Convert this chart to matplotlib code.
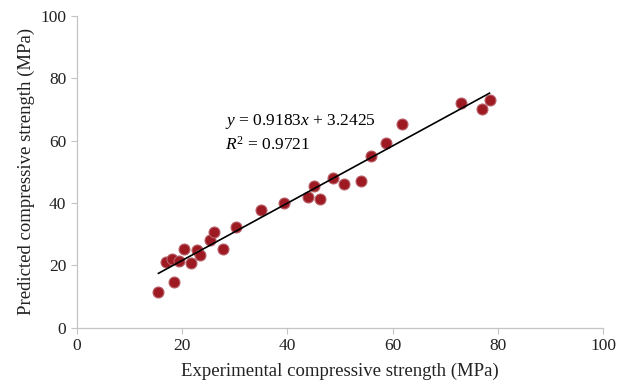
import numpy as np
import matplotlib.pyplot as plt

plt.rcParams['font.family'] = ['Liberation Serif', 'DejaVu Serif']
plt.rcParams['mathtext.fontset'] = 'custom'
plt.rcParams['mathtext.rm'] = 'Liberation Serif'
plt.rcParams['mathtext.it'] = 'Liberation Serif:italic'

# Experimental vs predicted compressive strength (MPa)
experimental = [15.5, 18.4, 17.0, 18.0, 19.5, 20.4, 21.6, 22.8, 23.4, 25.3,
                26.1, 27.8, 30.3, 34.9, 39.3, 43.9, 45.0, 46.1, 48.7, 50.7,
                53.9, 55.8, 58.7, 61.7, 72.9, 76.9, 78.4]
predicted = [11.4, 14.7, 21.0, 22.1, 21.3, 25.2, 20.9, 24.8, 23.4, 28.2,
             30.7, 25.4, 32.4, 37.8, 40.0, 41.8, 45.5, 41.4, 47.9, 46.2,
             47.0, 55.1, 59.4, 65.4, 72.1, 70.1, 73.0]
slope, intercept = 0.9183, 3.2425
r2 = 0.9721

fig = plt.figure(figsize=(6.35, 3.88), dpi=100)
ax = fig.add_axes([0.121, 0.155, 0.829, 0.804])

ax.scatter(experimental, predicted, s=62, color='#9e1a22',
           edgecolor='#b8606a', linewidth=0.8, zorder=3)

xs = np.array([min(experimental), max(experimental)])
ax.plot(xs, slope * xs + intercept, color='black', linewidth=1.2, zorder=4)

ax.text(28.2, 66.1, r'$y$ = 0.9183$x$ + 3.2425', fontsize=12.5, va='center')
ax.text(28.2, 58.6, r'$R^2$ = 0.9721', fontsize=12.5, va='center')

ax.set_xlim(0, 100)
ax.set_ylim(0, 100)
ax.set_xticks(range(0, 101, 20))
ax.set_yticks(range(0, 101, 20))
for s in ['top', 'right']:
    ax.spines[s].set_visible(False)
for s in ['left', 'bottom']:
    ax.spines[s].set_color('#c4c4c4')
    ax.spines[s].set_linewidth(0.9)
ax.tick_params(direction='out', length=4, color='#c4c4c4', labelsize=12.5,
               labelcolor='#222222')
ax.set_xlabel('Experimental compressive strength (MPa)', fontsize=13.5,
              color='#222222', labelpad=6)
ax.set_ylabel('Predicted compressive strength (MPa)', fontsize=13.5,
              color='#222222', labelpad=4)

fig.savefig('out.png', dpi=100)
